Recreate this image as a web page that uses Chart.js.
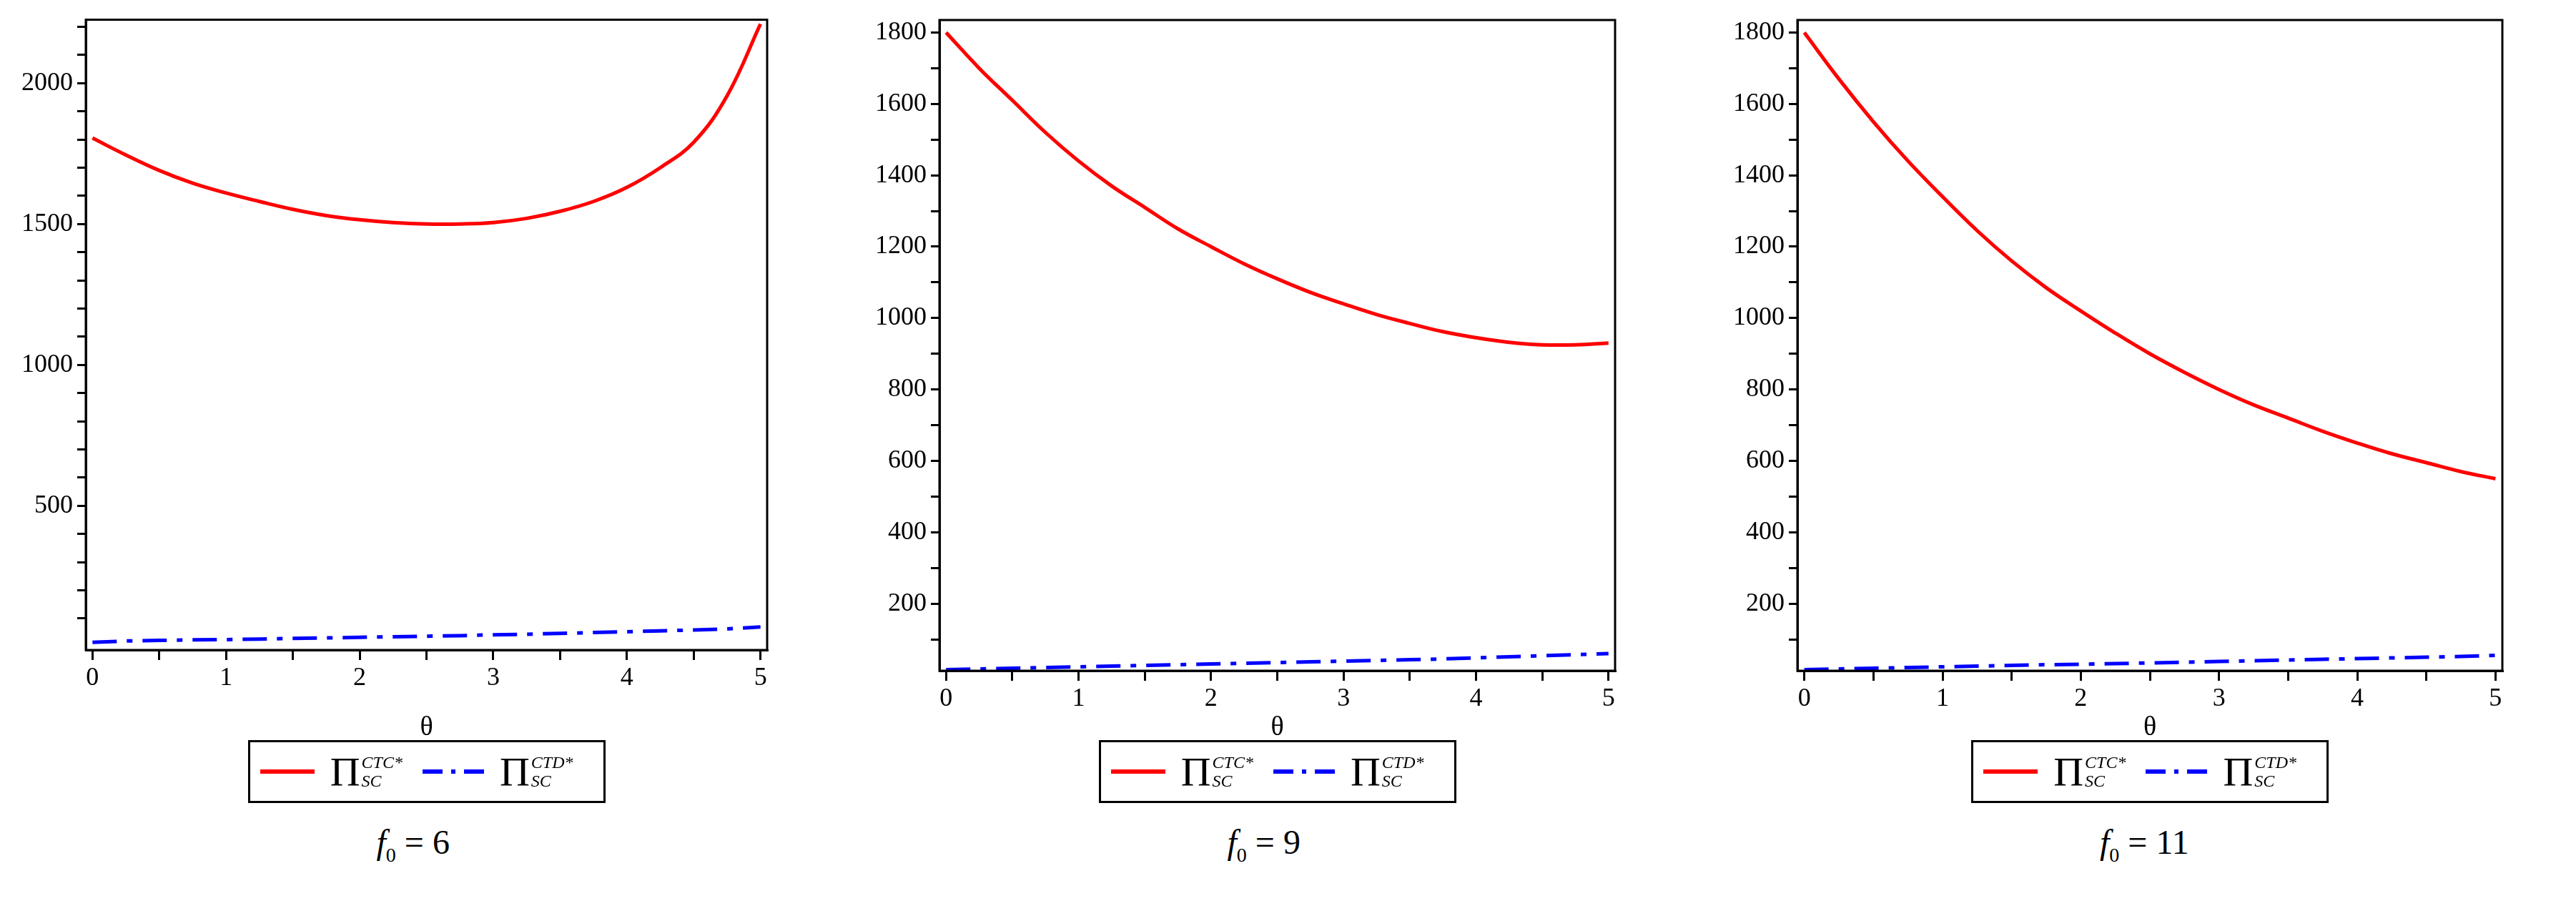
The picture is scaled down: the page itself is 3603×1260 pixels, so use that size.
<!DOCTYPE html>
<html><head><meta charset="utf-8">
<script src="https://cdn.jsdelivr.net/npm/chart.js@4"></script>
<style>
  body { margin:0; width:3603px; height:1260px; background:#fff; position:relative; overflow:hidden; font-family:"Liberation Serif", serif; }
  .panel { position:absolute; top:0; }
  .legend { position:absolute; border:3px solid #000; height:88px; display:flex; align-items:center; padding:0 14px; box-sizing:border-box; font-size:58px; }
  .legend .sw { width:95px; height:0; margin-right:22px; }
  .legend .dd { display:inline-flex; align-items:center; margin-right:22px; }
  .legend .dd span { display:inline-block; height:6px; background:#00f; }
  .legend .sym { margin-right:28px; display:inline-flex; align-items:center; }
  .legend sup, .legend sub { font-size:24px; font-style:italic; }
  .legend .ss { display:inline-flex; flex-direction:column; line-height:26px; margin-left:2px; }
  .cap { position:absolute; font-size:48px; }
</style></head><body>
<canvas id="c1" class="panel" style="left:0"></canvas>
<canvas id="c2" class="panel" style="left:1194px"></canvas>
<canvas id="c3" class="panel" style="left:2394px"></canvas>
<div id="legends"></div>
<script>
const theta = [0,0.25,0.5,0.75,1,1.25,1.5,1.75,2,2.25,2.5,2.75,3,3.25,3.5,3.75,4,4.25,4.5,4.75,5];
const ctc6  = [1805,1745,1690,1645,1610,1580,1552,1530,1515,1505,1500,1500,1505,1520,1545,1580,1630,1700,1790,1955,2210];
const ctd6  = [15,20,22,24,25,27,29,31,33,35,37,39,42,44,47,50,53,56,59,63,70];
const ctc9  = [1800,1700,1610,1520,1440,1370,1310,1250,1200,1152,1110,1072,1040,1010,985,962,945,932,925,925,930];
const ctd9  = [15,17,19,21,23,25,27,29,31,33,35,37,39,41,43,45,48,51,54,57,60];
const ctc11 = [1800,1670,1550,1440,1340,1245,1160,1085,1020,958,900,848,800,757,720,683,650,620,595,570,550];
const ctd11 = [15,17,19,21,23,25,27,29,30,32,34,36,38,40,42,44,46,48,50,52,55];
const xTicks = [0,1,2,3,4,5];

const panels = [
  { id:'c1', left:0,    plotL:120,  plotR:1073, top:19, bottom:909, red:ctc6,  blue:ctd6,  yMin:-12, yMax:2225, yStep:100, yLabelEvery:500, cap:'6' },
  { id:'c2', left:1194, plotL:1314, plotR:2259, top:28, bottom:938, red:ctc9,  blue:ctd9,  yMin:12,  yMax:1835, yStep:100, yLabelEvery:200, cap:'9' },
  { id:'c3', left:2394, plotL:2514, plotR:3500, top:28, bottom:938, red:ctc11, blue:ctd11, yMin:12,  yMax:1835, yStep:100, yLabelEvery:200, cap:'11' },
];

const frame = {
  id:'frame',
  afterDatasetsDraw(chart) {
    const a = chart.chartArea, ctx = chart.ctx;
    ctx.save(); ctx.strokeStyle = '#000'; ctx.lineWidth = 3;
    ctx.strokeRect(a.left, a.top, a.right - a.left, a.bottom - a.top);
    ctx.restore();
  }
};

panels.forEach((p) => {
  const W = p.plotR - p.left + 30, H = 1045;
  const cv = document.getElementById(p.id);
  cv.width = W; cv.height = H; cv.style.width = W + 'px'; cv.style.height = H + 'px';
  const yw = p.plotL - p.left;
  new Chart(cv, {
    type: 'line',
    data: { datasets: [
      { data: theta.map((t, i) => ({ x: t, y: p.red[i] })), borderColor: '#ff0000', borderWidth: 5, pointRadius: 0, tension: 0.4 },
      { data: theta.map((t, i) => ({ x: t, y: p.blue[i] })), borderColor: '#0000ff', borderWidth: 5, pointRadius: 0, borderDash: [34, 14, 8, 14] },
    ]},
    options: {
      responsive: false, animation: false,
      layout: { padding: { top: p.top, right: 30, left: 0, bottom: 0 } },
      plugins: { legend: { display: false }, tooltip: { enabled: false } },
      scales: {
        x: {
          type: 'linear', min: -0.05, max: 5.05,
          afterBuildTicks: (s) => { s.ticks = []; for (let k = 0; k <= 10; k++) s.ticks.push({ value: k / 2 }); },
          afterFit: (s) => { s.height = H - p.bottom; },
          ticks: { autoSkip: false, maxRotation: 0, color: '#000', font: { family: 'Liberation Serif', size: 36 }, padding: 4,
            callback: (v) => xTicks.includes(v) ? String(v) : '' },
          grid: { drawOnChartArea: false, color: '#000', lineWidth: 3, tickLength: 14 },
          border: { color: '#000', width: 3 },
          title: { display: true, text: 'θ', color: '#000', font: { family: 'Liberation Serif', size: 38 }, padding: { top: 4 } },
        },
        y: {
          min: p.yMin, max: p.yMax,
          afterBuildTicks: (s) => { s.ticks = []; for (let k = 1; k * p.yStep <= p.yMax; k++) s.ticks.push({ value: k * p.yStep }); },
          afterFit: (s) => { s.width = yw; },
          ticks: { autoSkip: false, color: '#000', font: { family: 'Liberation Serif', size: 36 }, padding: 6,
            callback: (v) => v % p.yLabelEvery === 0 ? String(v) : '' },
          grid: { drawOnChartArea: false, color: '#000', lineWidth: 3, tickLength: 12 },
          border: { color: '#000', width: 3 },
        },
      },
    },
    plugins: [frame],
  });

  const mid = (p.plotL + p.plotR) / 2;
  const lg = document.createElement('div');
  lg.className = 'legend';
  lg.style.left = (mid - 250) + 'px'; lg.style.top = '1035px'; lg.style.width = '500px';
  lg.innerHTML =
    '<span class="sw" style="border-top:6px solid #f00"></span>' +
    '<span class="sym">Π<span class="ss"><sup>CTC*</sup><sub>SC</sub></span></span>' +
    '<span class="dd"><span style="width:28px"></span><span style="width:6px;margin:0 12px"></span><span style="width:28px"></span></span>' +
    '<span class="sym">Π<span class="ss"><sup>CTD*</sup><sub>SC</sub></span></span>';
  document.getElementById('legends').appendChild(lg);
  const cap = document.createElement('div');
  cap.className = 'cap';
  cap.style.left = (mid - 70) + 'px'; cap.style.top = '1150px';
  cap.innerHTML = '<i>f</i><sub style="font-size:28px">0</sub> = ' + p.cap;
  document.getElementById('legends').appendChild(cap);
});
</script>
</body></html>
